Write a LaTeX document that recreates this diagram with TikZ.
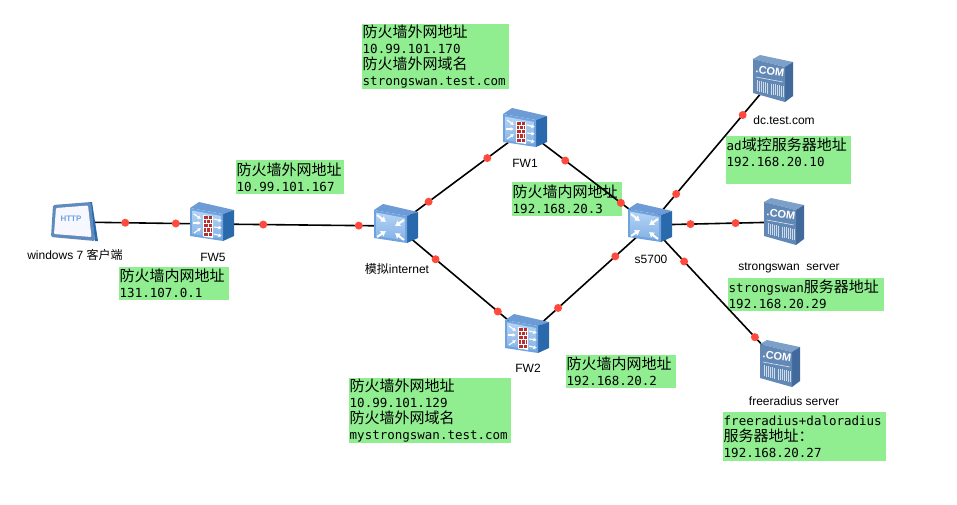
\documentclass[tikz,border=0pt]{standalone}
\usepackage{fontspec}
\setmainfont{Liberation Sans}
\setmonofont{DejaVu Sans Mono}
\newfontfamily\zhfont{Noto Sans CJK SC}
\usetikzlibrary{arrows.meta}

\definecolor{notegreen}{HTML}{90EE90}
\definecolor{dotred}{HTML}{FF4A3D}
\definecolor{boxlight}{HTML}{B4D4F4}
\definecolor{boxmid}{HTML}{6FA3E0}
\definecolor{boxtop}{HTML}{6C9BD6}
\definecolor{boxside}{HTML}{2A69AB}
\definecolor{comfront}{HTML}{6288B6}
\definecolor{comtop}{HTML}{7DA0C8}
\definecolor{comside}{HTML}{41699B}
\definecolor{brick}{HTML}{B5302E}

\newcommand{\zh}[1]{{\zhfont\fontsize{15}{16}\selectfont #1}}
\newcommand{\zhs}[1]{{\zhfont\fontsize{12}{14}\selectfont #1}}

\tikzset{
	link/.style={line width=1.6pt, black},
	reddot/.style={circle, fill=dotred, inner sep=0pt, minimum size=8pt},
	dev/.style={inner sep=0pt, minimum size=1pt},
	devlabel/.style={font=\fontsize{12}{14}\selectfont, inner sep=0pt},
	note/.style={anchor=north west, fill=notegreen, align=left, inner xsep=0pt, inner ysep=0.5pt,
		font=\ttfamily\fontsize{12.5}{16}\selectfont},
	wht/.style={white, line width=1.1pt, -{Latex[length=3.5pt,width=4pt]}},
	whtb/.style={white, line width=2pt, -{Latex[length=5pt,width=7pt]}},
	% blue cabinet shared by the firewall and the switch
	pics/bluebox/.style={code={
		\fill[boxtop] (-22,-16) -- (-13,-22) -- (22,-14) -- (11,-10) -- cycle;
		\fill[boxside] (11,-10) -- (22,-14) -- (22,12) -- (11,17) -- cycle;
		\fill[boxmid] (-22,-16) -- (11,-10) -- (11,17) -- (-22,12) -- cycle;
		\shade[top color=boxlight, bottom color=boxmid!70!boxlight] (-20,-13.5) -- (9,-8) -- (9,14.5) -- (-20,10) -- cycle;
	}},
	pics/fwicon/.style={code={
		\pic {bluebox};
		\fill[white] (-9,-9) -- (1,-7.5) -- (1,14) -- (-9,12.5) -- cycle;
		\foreach \row in {0,...,4} {
			\fill[brick] (-8.4,-8.2+4.2*\row) rectangle (0.4,-5+4.2*\row);
		}
		\foreach \row in {0,2,4} {
			\draw[white, line width=0.7pt] (-4,-8.2+4.2*\row) -- ++(0,3.2);
		}
		\foreach \row in {1,3} {
			\draw[white, line width=0.7pt] (-6,-8.2+4.2*\row) -- ++(0,3.2);
			\draw[white, line width=0.7pt] (-2,-8.2+4.2*\row) -- ++(0,3.2);
		}
		\draw[wht] (-18,-10) -- (-11,-5);
		\draw[wht] (-19,-1) -- (-11,-1);
		\draw[wht] (-18,9) -- (-11,4);
		\draw[wht] (2,-5) -- (10,-3);
		\draw[wht] (2,3) -- (10,4);
		\draw[wht] (2,10) -- (10,12);
	}},
	pics/switchicon/.style={code={
		\pic {bluebox};
		\draw[whtb] (-19,-11) -- (-10,-4);
		\draw[whtb] (8,-6) -- (-1,0);
		\draw[whtb] (-19,11) -- (-10,5);
		\draw[whtb] (8,14) -- (-1,7);
	}},
	pics/comicon/.style={code={
		\fill[comtop] (-20,-20) -- (-13,-24) -- (20,-17) -- (12,-12) -- cycle;
		\fill[comside] (12,-12) -- (20,-17) -- (20,17) -- (12,23) -- cycle;
		\fill[comfront] (-20,-20) -- (12,-12) -- (12,23) -- (-20,14) -- cycle;
		\node[white, inner sep=0pt, rotate=-8, font=\bfseries\fontsize{11}{12}\selectfont] (comtext) at (-3,-8) {.COM};
		\draw[white!80!comfront, line width=0.6pt] (-17,-2) -- (10,3);
		\foreach \k in {-16,-14,...,-6,-2,0,...,10} {
			\draw[white!70!comfront, line width=0.8pt] (\k,{0.22*\k+5}) -- (\k,{0.22*\k+16});
		}
	}},
	pics/httpicon/.style={code={
		\fill[boxside] (16,-20) -- (18,-20) -- (24,19) -- (21,19) -- cycle;
		\fill[rounded corners=1.5pt, boxmid!85!black] (-21,-17) -- (17,-20) -- (21,19) -- (-23,15) -- cycle;
		\fill[rounded corners=1pt, blue!3] (-18,-14) -- (14,-16.5) -- (17.5,15) -- (-20,12) -- cycle;
		\node[boxmid, inner sep=0pt, font=\rmfamily\bfseries\fontsize{8}{9}\selectfont] (httptext) at (-3,-3) {HTTP};
	}},
}

\begin{document}
\begin{tikzpicture}[x=1pt, y=-1pt]
	\useasboundingbox (0,0) rectangle (957,504);

	% address notes
	\node[note, minimum width=147pt, minimum height=64pt, text width=146pt] (fwaout) at (362,24) {\zh{防火墙外网地址}\\10.99.101.170\\\zh{防火墙外网域名}\\strongswan.test.com};
	\node[note, minimum width=108pt, minimum height=34pt, text width=107pt] (fwcout) at (236,160) {\zh{防火墙外网地址}\\10.99.101.167};
	\node[note, minimum width=110pt, minimum height=33pt, text width=109pt] (fwcin) at (119,267) {\zh{防火墙内网地址}\\131.107.0.1};
	\node[note, minimum width=110pt, minimum height=34pt, text width=109pt] (fwain) at (512,182) {\zh{防火墙内网地址}\\192.168.20.3};
	\node[note, minimum width=162pt, minimum height=64pt, text width=161pt] (fwbout) at (349,378) {\zh{防火墙外网地址}\\10.99.101.129\\\zh{防火墙外网域名}\\mystrongswan.test.com};
	\node[note, minimum width=110pt, minimum height=33pt, text width=109pt] (fwbin) at (566,355) {\zh{防火墙内网地址}\\192.168.20.2};
	\node[note, minimum width=125pt, minimum height=48pt, text width=124pt] (adaddr) at (726,136) {ad\zh{域控服务器地址}\\192.168.20.10\\~};
	\node[note, minimum width=156pt, minimum height=33pt, text width=155pt] (swanaddr) at (728,278) {strongswan\zh{服务器地址}\\192.168.20.29};
	\node[note, minimum width=163pt, minimum height=49pt, text width=162pt] (radaddr) at (723,412) {freeradius+daloradius\\\zh{服务器地址：}\\192.168.20.27};

	% devices
	\node[dev] (client) at (74,222) {};
	\node[dev] (fwc) at (212,224) {};
	\node[dev] (internet) at (396,226) {};
	\node[dev] (fwa) at (525,130) {};
	\node[dev] (fwb) at (527,336) {};
	\node[dev] (core) at (650,225) {};
	\node[dev] (dc) at (773,79) {};
	\node[dev] (swan) at (784,222) {};
	\node[dev] (radius) at (780,364) {};

	% links with their two port marks
	\foreach \a/\b/\p/\q in {client/fwc/0.37/0.74, fwc/internet/0.277/0.80, internet/fwa/0.25/0.71,
		internet/fwb/0.30/0.78, fwa/core/0.32/0.77, fwb/core/0.25/0.72,
		core/dc/0.21/0.756, core/swan/0.30/0.64, core/radius/0.26/0.81} {
		\draw[link] (\a) -- node[reddot, pos=\p] (\a\b p) {} node[reddot, pos=\q] (\a\b q) {} (\b);
	}

	\pic at (client) {httpicon};
	\pic at (fwc) {fwicon};
	\pic at (internet) {switchicon};
	\pic at (fwa) {fwicon};
	\pic at (fwb) {fwicon};
	\pic at (core) {switchicon};
	\pic at (dc) {comicon};
	\pic at (swan) {comicon};
	\pic at (radius) {comicon};

	% device names
	\node[devlabel] (clientname) at (75,255) {windows 7 \zhs{客户端}};
	\node[devlabel] (fwcname) at (213,257) {FW5};
	\node[devlabel] (internetname) at (397,269) {\zhs{模拟}internet};
	\node[devlabel] (fwaname) at (525,163) {FW1};
	\node[devlabel] (fwbname) at (528,368) {FW2};
	\node[devlabel] (corename) at (651,259) {s5700};
	\node[devlabel] (dcname) at (784,120) {dc.test.com};
	\node[devlabel] (swanname) at (789,268) {strongswan\ \ server};
	\node[devlabel] (radiusname) at (794,401) {freeradius server};
\end{tikzpicture}
\end{document}
